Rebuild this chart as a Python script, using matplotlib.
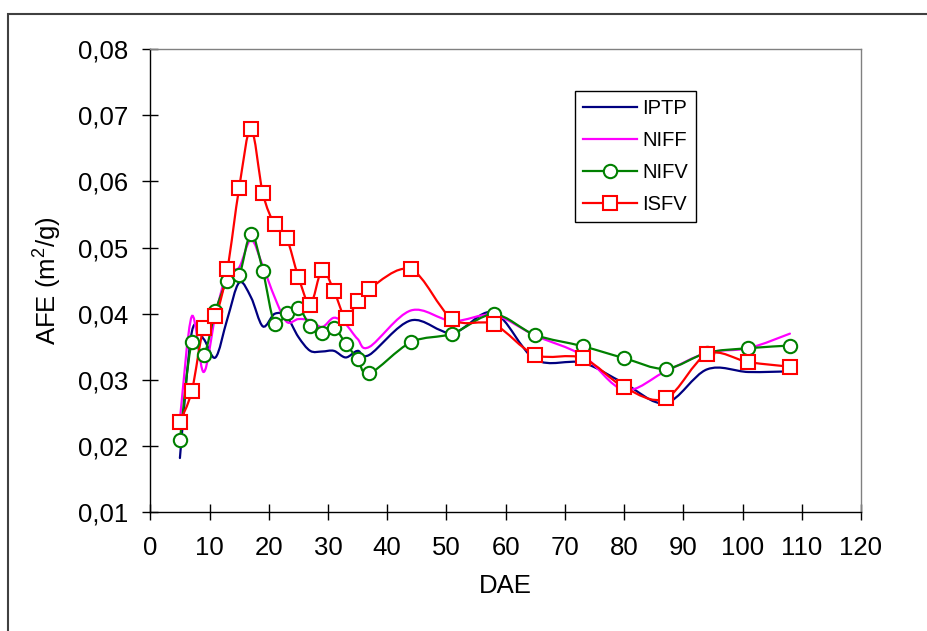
import numpy as np
import matplotlib
matplotlib.use("Agg")
from matplotlib import pyplot as plt
from matplotlib.path import Path
from matplotlib.patches import PathPatch, Rectangle
from matplotlib.lines import Line2D

plt.rcParams['font.family'] = ['Liberation Sans', 'DejaVu Sans']
plt.rcParams['mathtext.fontset'] = 'custom'
plt.rcParams['mathtext.rm'] = 'Liberation Sans'
plt.rcParams['mathtext.it'] = 'Liberation Sans'

dae = [5, 7, 9, 11, 13, 15, 17, 19, 21, 23, 25, 27, 29, 31, 33, 35, 37,
       44, 51, 58, 65, 73, 80, 87, 94, 101, 108]

iptp = [0.0182, 0.0372, 0.0362, 0.0334, 0.0392, 0.0447, 0.0425, 0.0381, 0.0400,
        0.0396, 0.0365, 0.0344, 0.0343, 0.0344, 0.0334, 0.0344, 0.0338,
        0.0390, 0.0371, 0.0402, 0.0331, 0.0326, 0.0295, 0.0265, 0.0316, 0.0312, 0.0313]
niff = [0.0240, 0.0396, 0.0312, 0.0398, 0.0462, 0.0470, 0.0512, 0.0472, 0.0425,
        0.0388, 0.0392, 0.0390, 0.0380, 0.0394, 0.0384, 0.0362, 0.0350,
        0.0405, 0.0389, 0.0398, 0.0367, 0.0337, 0.0285, 0.0313, 0.0341, 0.0348, 0.0370]
nifv = [0.0209, 0.0357, 0.0337, 0.0404, 0.0449, 0.0458, 0.0521, 0.0465, 0.0385,
        0.0401, 0.0409, 0.0382, 0.0371, 0.0379, 0.0355, 0.0332, 0.0310,
        0.0357, 0.0370, 0.0399, 0.0368, 0.0351, 0.0333, 0.0317, 0.0341, 0.0348, 0.0352]
isfv = [0.0237, 0.0283, 0.0379, 0.0396, 0.0467, 0.0590, 0.0680, 0.0582, 0.0535,
        0.0515, 0.0456, 0.0414, 0.0466, 0.0435, 0.0394, 0.0419, 0.0438,
        0.0467, 0.0392, 0.0384, 0.0338, 0.0333, 0.0289, 0.0272, 0.0339, 0.0327, 0.0320]

names = ['IPTP', 'NIFF', 'NIFV', 'ISFV']
xticks = [0, 10, 20, 30, 40, 50, 60, 70, 80, 90, 100, 110, 120]
yticks = [0.01, 0.02, 0.03, 0.04, 0.05, 0.06, 0.07, 0.08]
ytick_labels = ['0,01', '0,02', '0,03', '0,04', '0,05', '0,06', '0,07', '0,08']


def smooth_path(x, y):
    # excel style smoothed line: bezier segments, catmull-rom control points
    p = np.column_stack([x, y]).astype(float)
    n = len(p)
    verts = [p[0]]
    codes = [Path.MOVETO]
    for i in range(n - 1):
        p0 = p[i - 1] if i > 0 else p[i]
        p1 = p[i]
        p2 = p[i + 1]
        p3 = p[i + 2] if i + 2 < n else p[i + 1]
        c1 = p1 + (p2 - p0) / 6.0
        c2 = p2 - (p3 - p1) / 6.0
        verts += [c1, c2, p2]
        codes += [Path.CURVE4] * 3
    return Path(verts, codes)


fig = plt.figure(figsize=(9.28, 6.31), dpi=100)
ax = fig.add_axes([150.3 / 928, 1 - 512.3 / 631, (861 - 150.3) / 928, (512.3 - 49.1) / 631])

styles = [
    dict(color='#000080', marker=None),
    dict(color='#FF00FF', marker=None),
    dict(color='#008000', marker='o'),
    dict(color='#FF0000', marker='s'),
]
series = [iptp, niff, nifv, isfv]

handles = []
for name, vals, st in zip(names, series, styles):
    ax.add_patch(PathPatch(smooth_path(dae, vals), facecolor='none',
                           edgecolor=st['color'], lw=1.6, capstyle='round'))
    if st['marker']:
        ax.plot(dae, vals, linestyle='none', marker=st['marker'], ms=9.6,
                mfc='white', mec=st['color'], mew=1.5)
    handles.append(Line2D([], [], color=st['color'], lw=1.6, marker=st['marker'],
                          ms=9.6, mfc='white', mec=st['color'], mew=1.5))

ax.set_xlim(0, 120)
ax.set_ylim(0.01, 0.08)
ax.set_xticks(xticks)
ax.set_yticks(yticks)
ax.set_yticklabels(ytick_labels)
ax.tick_params(direction='inout', length=12, width=1, labelsize=18.5)
ax.tick_params(axis='y', pad=10)
ax.tick_params(axis='x', pad=11)
ax.spines['top'].set_color('#808080')
ax.spines['right'].set_color('#808080')
for s in ax.spines.values():
    s.set_linewidth(1.0)

ax.set_xlabel('DAE', fontsize=18.5, labelpad=10)
ax.set_ylabel('AFE (m$^2$/g)', fontsize=18.5, labelpad=10)

leg = fig.legend(handles, names, loc='upper left',
                 bbox_to_anchor=(575 / 928, 1 - 91 / 631), borderaxespad=0,
                 fontsize=14.5, frameon=True, fancybox=False, edgecolor='black',
                 framealpha=1, handlelength=2.7, handletextpad=0.25,
                 labelspacing=0.64, borderpad=0.4)
leg.get_frame().set_linewidth(1.0)

# outer chart border (cut off at right and bottom)
fig.add_artist(Rectangle((8 / 928, -0.2), 1.2, 1.2 - 14 / 631,
                         transform=fig.transFigure, fill=False,
                         edgecolor='#404040', lw=1.5))

fig.savefig('out.png', dpi=100)
